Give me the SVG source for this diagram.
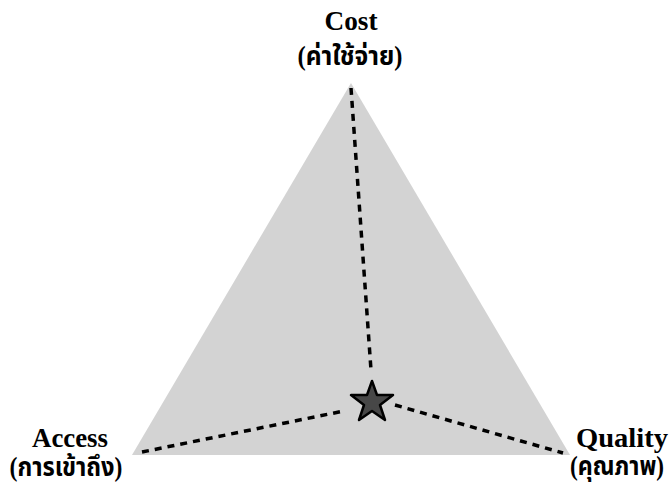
<svg xmlns="http://www.w3.org/2000/svg" width="671" height="491" viewBox="0 0 671 491">
<style>
.lbl{font-family:"Liberation Serif","Noto Sans Thai","Noto Serif Thai",serif;font-weight:bold;font-size:27px;fill:#000;text-anchor:middle}
.th{font-size:27px}
.dash{fill:none;stroke:#000;stroke-width:3.5;stroke-dasharray:7 6}
</style>
<rect width="671" height="491" fill="#fff"/>
<g id="triangle"><polygon points="351,83 132,455 570,455" fill="#d3d3d3"/></g>
<g id="connectors">
<line class="dash" x1="351" y1="88" x2="371" y2="370"/>
<line class="dash" x1="142" y1="452" x2="344" y2="411"/>
<line class="dash" x1="395" y1="405" x2="563" y2="453"/>
</g>
<g id="star"><polygon points="372,381 377,395 393,395 380,405 385,420 372,411 359,420 364,405 351,395 367,395" fill="#474747" stroke="#000" stroke-width="2.5" stroke-linejoin="round"/></g>
<g id="cost"><text class="lbl" x="351" y="30" textLength="53" lengthAdjust="spacingAndGlyphs">Cost</text><text class="lbl th" x="350" y="65" textLength="105" lengthAdjust="spacingAndGlyphs">(ค่าใช้จ่าย)</text></g>
<g id="access"><text class="lbl" x="70" y="447" textLength="76" lengthAdjust="spacingAndGlyphs">Access</text><text class="lbl th" x="66" y="476" textLength="113" lengthAdjust="spacingAndGlyphs">(การเข้าถึง)</text></g>
<g id="quality"><text class="lbl" x="622" y="447" textLength="92" lengthAdjust="spacingAndGlyphs">Quality</text><text class="lbl th" x="617" y="475" textLength="94" lengthAdjust="spacingAndGlyphs">(คุณภาพ)</text></g>
</svg>
